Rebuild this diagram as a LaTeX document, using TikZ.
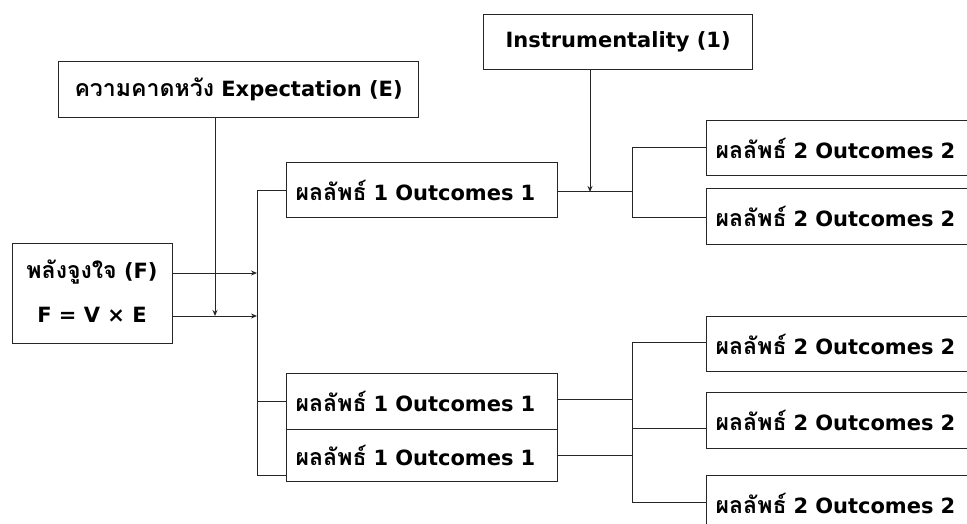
\documentclass[tikz,border=0pt]{standalone}
\usepackage{fontspec}
\setmainfont{DejaVu Sans}
\newfontfamily\thaif[Script=Thai,Scale=1.1]{Loma}
\usetikzlibrary{arrows.meta}
\newcommand\ouA{{\thaif ผลลัพธ์} 1 Outcomes 1}
\newcommand\ouB{{\thaif ผลลัพธ์} 2 Outcomes 2}
\begin{document}
\begin{tikzpicture}[x=1pt,y=-1pt,
  font=\bfseries\fontsize{21}{25}\selectfont,
  box/.style={draw=black!85, line width=1.2pt, anchor=north west, inner sep=0pt, fill=white},
  lbox/.style={box, align=left, inner xsep=9pt, text width=#1},
  cbox/.style={box, align=center, minimum width=#1},
  conn/.style={draw=black!85, line width=1pt},
  arr/.style={conn, -{Stealth[length=6pt,width=5pt]}}]
\path[use as bounding box] (0,0) rectangle (967,524);
\clip (0,0) rectangle (967,524);
\fill[white] (0,0) rectangle (967,524);

% nodes
\node[cbox=269pt, minimum height=55pt] (I) at (483,14) {Instrumentality (1)};
\node[cbox=360pt, minimum height=56pt] (E) at (58,61) {{\thaif ความคาดหวัง} Expectation (E)};
\node[cbox=160pt, minimum height=100pt] (F) at (12,243) {};
\node (F1) at (92,272) {{\thaif พลังจูงใจ} (F)};
\node (F2) at (92,315) {F = V × E};

\node[lbox=253pt, minimum height=55pt] (A) at (286,162) {\ouA};
\node[lbox=253pt, minimum height=56pt] (B) at (286,373) {\ouA};
\node[lbox=253pt, minimum height=52pt] (C) at (286,429) {\ouA};

\node[lbox=300pt, minimum height=55pt] (P1) at (706,120) {\ouB};
\node[lbox=300pt, minimum height=56pt] (P2) at (706,188) {\ouB};
\node[lbox=300pt, minimum height=55pt] (P3) at (706,316) {\ouB};
\node[lbox=300pt, minimum height=56pt] (P4) at (706,392) {\ouB};
\node[lbox=300pt, minimum height=56pt] (P5) at (706,475) {\ouB};

% junction coordinates
\coordinate (t1) at (257,191);
\coordinate (t2) at (257,401);
\coordinate (t3) at (257,475);
\coordinate (a1) at (257,273);
\coordinate (a2) at (257,316);
\coordinate (e1) at (215,316);
\coordinate (i1) at (590,192);
\coordinate (j1) at (632,192);
\coordinate (j2) at (632,148);
\coordinate (j3) at (632,217);
\coordinate (k1) at (632,399);
\coordinate (k2) at (632,455);
\coordinate (k3) at (632,342);
\coordinate (k4) at (632,428);
\coordinate (k5) at (632,502);

% trunk from F to outcomes 1
\draw[conn] (A.west |- t1) -- (t1) -- (t3) -- (C.west |- t3);
\draw[conn] (t2) -- (B.west |- t2);
\draw[arr] (F.east |- a1) -- (a1);
\draw[arr] (F.east |- a2) -- (a2);
\draw[arr] (E.south -| e1) -- (e1);

% upper outcome branch
\draw[conn] (A.east |- j1) -- (j1);
\draw[arr] (I.south -| i1) -- (i1);
\draw[conn] (P1.west |- j2) -- (j2) -- (j3) -- (P2.west |- j3);

% lower outcome branch
\draw[conn] (B.east |- k1) -- (k1);
\draw[conn] (C.east |- k2) -- (k2);
\draw[conn] (P3.west |- k3) -- (k3) -- (k5) -- (P5.west |- k5);
\draw[conn] (k4) -- (P4.west |- k4);
\end{tikzpicture}
\end{document}
